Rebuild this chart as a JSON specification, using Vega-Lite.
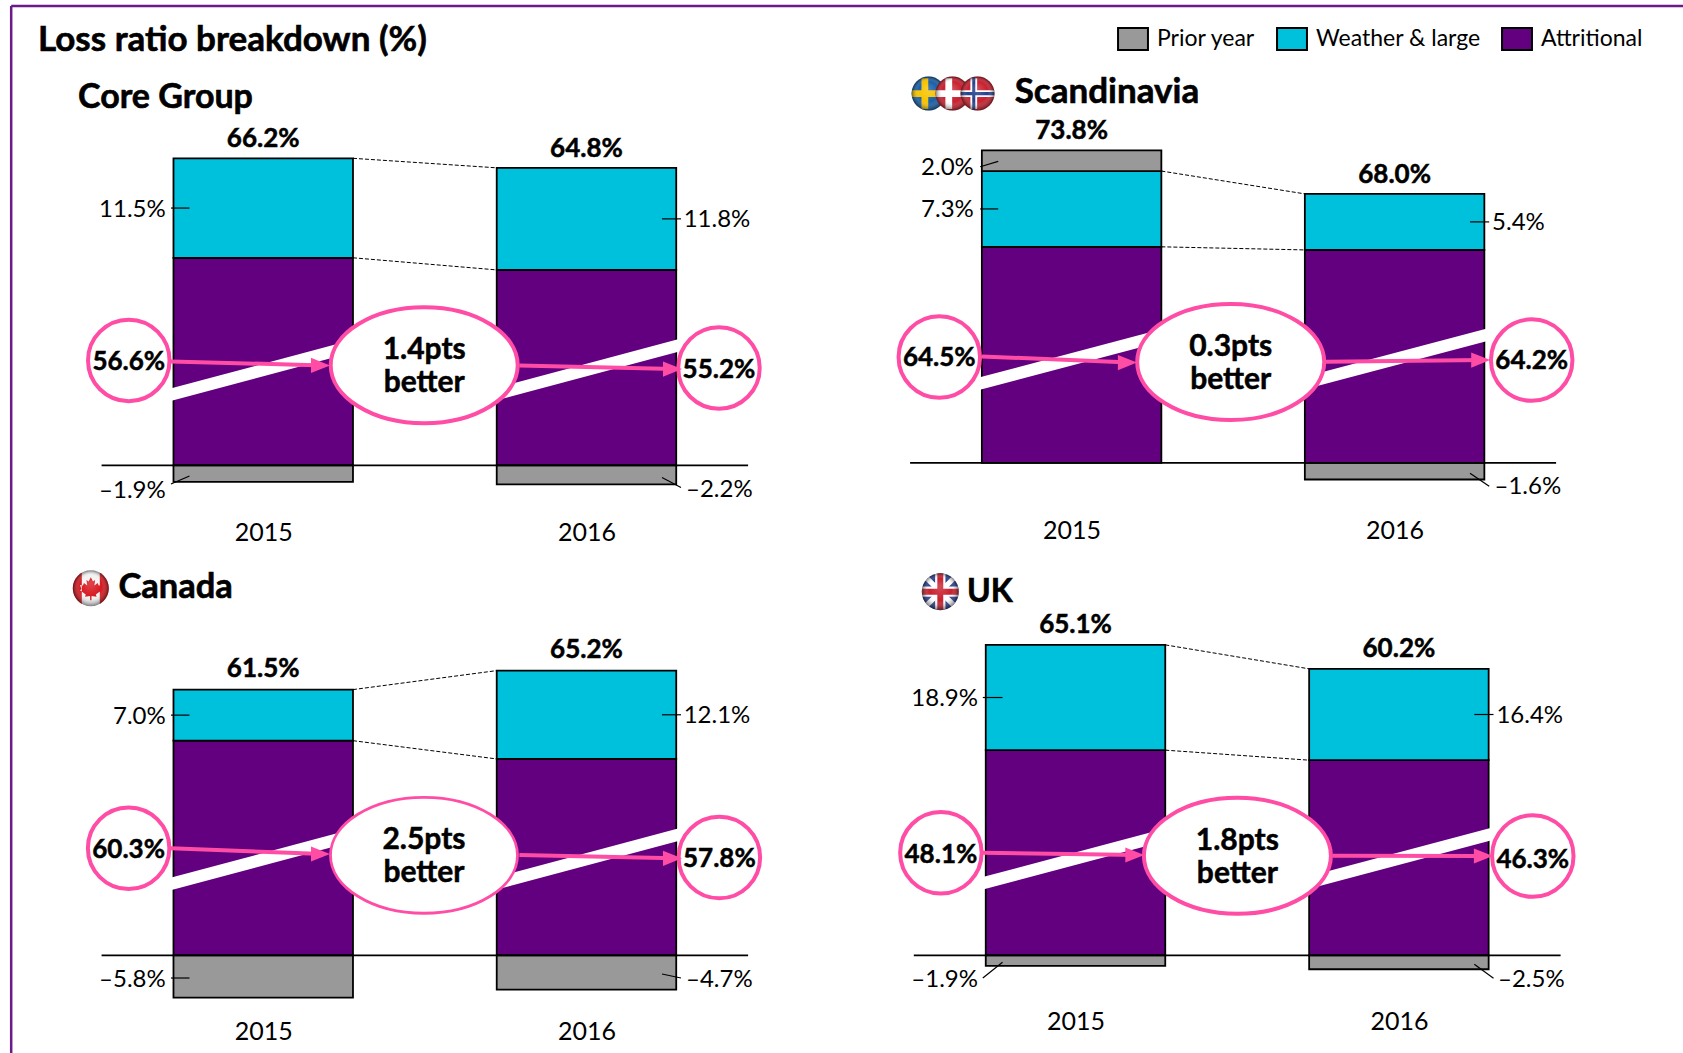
{
"$schema":"https://vega.github.io/schema/vega-lite/v6.json",
"padding":0,
"background":"white",
"columns":2,
"spacing":0,
"bounds":"flush",
"resolve":{"scale":{"color":"independent"},"legend":{"color":"independent"}},
"config":{"font":"Lato","view":{"stroke":null},"axis":{"disable":true},"text":{"color":"#000"}},
"concat":[
{"width":850,"height":565,
"data":{"values":[
{"year":2015,"series":"Attritional","value":56.6},{"year":2015,"series":"Weather & large","value":11.5},{"year":2015,"series":"Prior year","value":-1.9},
{"year":2016,"series":"Attritional","value":55.2},{"year":2016,"series":"Weather & large","value":11.8},{"year":2016,"series":"Prior year","value":-2.2}]},
"transform":[{"stack":"value","groupby":["year"],"offset":"zero","as":["y0","y1"]},{"calculate":"(datum.y0+datum.y1)/2","as":"mid"},{"calculate":"(datum.value<0?'–':'')+format(abs(datum.value),'.1f')+'%'","as":"label"}],
"encoding":{"x":{"type":"quantitative","title":null,"scale":{"domain":[2014.5,2016.5],"range":[101.6,748.1],"zero":false,"nice":false,"padding":0},"axis":{"disable":false,"values":[2015,2016],"format":"d","domain":false,"ticks":false,"grid":false,"title":null,"labelFontSize":25,"labelColor":"#000","labelBaseline":"middle","labelPadding":0,"offset":-33}}},
"layer":[
{"mark":{"type":"bar","width":179.5,"orient":"vertical","stroke":"#000","strokeWidth":1.8},"encoding":{"x":{"field":"year"},"y":{"field":"y0","type":"quantitative","title":null,"scale":{"domain":[-11.5,0,20,52.6,86.4],"range":[565,465.4,292.4,292.4,0],"zero":false,"nice":false}},"y2":{"field":"y1"},"color":{"field":"series","type":"nominal","legend":null,"scale":{"domain":["Prior year","Weather & large","Attritional"],"range":["#999999","#00c1dc","#62007f"]}}}},
{"transform":[{"aggregate":[{"op":"sum","field":"value","as":"total"},{"op":"max","field":"y1","as":"top"}],"groupby":["year"]},{"calculate":"format(datum.total,'.1f')+'%'","as":"totalLabel"}],"mark":{"type":"text","dy":-19,"fontSize":26,"fontWeight":"bold","stroke":"#000","strokeWidth":0.5},"encoding":{"x":{"field":"year"},"y":{"field":"top","type":"quantitative"},"text":{"field":"totalLabel"}}},
{"data":{"values":[{"from":68.1,"to":67.0},{"from":56.6,"to":55.2}]},"mark":{"type":"rule","xOffset":89.75,"x2Offset":-89.75,"strokeDash":[4,2],"strokeWidth":1,"stroke":"#000"},"encoding":{"x":{"datum":2015},"x2":{"datum":2016},"y":{"field":"from","type":"quantitative"},"y2":{"field":"to"}}},
{"transform":[{"filter":"datum.series=='Weather & large'&&datum.year==2015"}],"encoding":{"x":{"field":"year"},"y":{"field":"mid","type":"quantitative"}},"layer":[{"mark":{"type":"rule","xOffset":-92.25,"x2Offset":-73.75,"stroke":"#000","strokeWidth":1.2},"encoding":{"x2":{"field":"year"}}},{"mark":{"type":"text","align":"right","xOffset":-97.5,"dy":1.5,"fontSize":24},"encoding":{"text":{"field":"label"}}}]},
{"transform":[{"filter":"datum.series=='Weather & large'&&datum.year==2016"}],"encoding":{"x":{"field":"year"},"y":{"field":"mid","type":"quantitative"}},"layer":[{"mark":{"type":"rule","xOffset":75.5,"x2Offset":94.5,"stroke":"#000","strokeWidth":1.2},"encoding":{"x2":{"field":"year"}}},{"mark":{"type":"text","align":"left","xOffset":97.2,"dy":1.5,"fontSize":24},"encoding":{"text":{"field":"label"}}}]},
{"transform":[{"filter":"datum.series=='Prior year'&&datum.year==2015"}],"encoding":{"x":{"field":"year"}},"layer":[{"mark":{"type":"rule","xOffset":-73.75,"x2Offset":-92.25,"stroke":"#000","strokeWidth":1.2},"encoding":{"x2":{"field":"year"},"y":{"datum":-1.23},"y2":{"datum":-2.15}}},{"mark":{"type":"text","align":"right","xOffset":-97.5,"dy":1.5,"fontSize":24},"encoding":{"y":{"datum":-2.75},"text":{"field":"label"}}}]},
{"transform":[{"filter":"datum.series=='Prior year'&&datum.year==2016"}],"encoding":{"x":{"field":"year"}},"layer":[{"mark":{"type":"rule","xOffset":75.5,"x2Offset":94.5,"stroke":"#000","strokeWidth":1.2},"encoding":{"x2":{"field":"year"},"y":{"datum":-1.4},"y2":{"datum":-2.55}}},{"mark":{"type":"text","align":"left","xOffset":99.5,"dy":1.5,"fontSize":24},"encoding":{"y":{"datum":-2.68},"text":{"field":"label"}}}]},
{"data":{"values":[{"year":2015},{"year":2016}]},"mark":{"type":"rule","xOffset":-95,"x2Offset":95,"stroke":"#fff","strokeWidth":12.1},"encoding":{"x":{"field":"year"},"x2":{"field":"year"},"y":{"datum":8.09},"y2":{"datum":13.97}}},
{"data":{"values":[{}]},"layer":[
{"mark":{"type":"rule","stroke":"#000","strokeWidth":1.8},"encoding":{"x":{"datum":2014.5},"x2":{"datum":2016.5},"y":{"datum":0}}},
{"mark":{"type":"point","filled":true,"fill":"#fff","opacity":1,"stroke":"#ff4da6","strokeWidth":4,"size":34969,"shape":"M-1,0A1,.62 0 1,1 1,0A1,.62 0 1,1 -1,0Z"},"encoding":{"x":{"datum":2015.498},"y":{"datum":11.58}}},
{"mark":{"type":"text","fontSize":30,"fontWeight":"bold","lineHeight":33,"dy":-15,"stroke":"#000","strokeWidth":0.5},"encoding":{"x":{"datum":2015.498},"y":{"datum":11.58},"text":{"value":["1.4pts","better"]}}},
{"mark":{"type":"rule","stroke":"#6a1b8a","strokeWidth":2.5},"encoding":{"x":{"datum":2014.2203},"x2":{"datum":2016.8153},"y":{"datum":85.71}}},
{"mark":{"type":"rule","stroke":"#6a1b8a","strokeWidth":2.5},"encoding":{"x":{"datum":2014.2203},"y":{"datum":85.71},"y2":{"datum":-11.5}}},
{"mark":{"type":"text","align":"left","fontSize":35,"fontWeight":"bold","stroke":"#000","strokeWidth":0.6},"encoding":{"x":{"datum":2014.3032},"y":{"datum":81.81},"text":{"value":"Loss ratio breakdown (%)"}}},
{"mark":{"type":"text","align":"left","fontSize":34,"fontWeight":"bold","stroke":"#000","strokeWidth":0.6},"encoding":{"x":{"datum":2014.427},"y":{"datum":75.07},"text":{"value":"Core Group"}}}
]},
{"transform":[{"filter":"datum.series=='Attritional'&&datum.year==2015"}],"encoding":{"x":{"field":"year"},"y":{"datum":12.14}},"layer":[{"mark":{"type":"point","shape":"circle","filled":true,"fill":"#fff","opacity":1,"stroke":"#ff4da6","strokeWidth":4,"size":6642,"xOffset":-134.45}},{"mark":{"type":"text","xOffset":-134.45,"dy":2,"fontSize":26,"fontWeight":"bold","stroke":"#000","strokeWidth":0.5},"encoding":{"text":{"field":"label"}}}]},
{"transform":[{"filter":"datum.series=='Attritional'&&datum.year==2016"}],"encoding":{"x":{"field":"year"},"y":{"datum":11.27}},"layer":[{"mark":{"type":"point","shape":"circle","filled":true,"fill":"#fff","opacity":1,"stroke":"#ff4da6","strokeWidth":4,"size":6642,"xOffset":132.5}},{"mark":{"type":"text","xOffset":132.5,"dy":2,"fontSize":26,"fontWeight":"bold","stroke":"#000","strokeWidth":0.5},"encoding":{"text":{"field":"label"}}}]},
{"data":{"values":[{}]},"layer":[
{"mark":{"type":"rule","xOffset":-92.25,"x2Offset":60,"stroke":"#ff4da6","strokeWidth":4},"encoding":{"x":{"datum":2015},"x2":{"datum":2015},"y":{"datum":12.02},"y2":{"datum":11.56}}},
{"mark":{"type":"point","filled":true,"fill":"#ff4da6","opacity":1,"size":361,"xOffset":57.25,"shape":"M-1,-.8L1,0L-1,.8Z"},"encoding":{"x":{"datum":2015},"y":{"datum":11.56}}},
{"mark":{"type":"rule","xOffset":-67.1,"x2Offset":88.5,"stroke":"#ff4da6","strokeWidth":4},"encoding":{"x":{"datum":2016},"x2":{"datum":2016},"y":{"datum":11.56},"y2":{"datum":11.14}}},
{"mark":{"type":"point","filled":true,"fill":"#ff4da6","opacity":1,"size":361,"xOffset":86,"shape":"M-1,-.8L1,0L-1,.8Z"},"encoding":{"x":{"datum":2016},"y":{"datum":11.14}}}
]}
]},
{"width":833,"height":565,
"data":{"values":[
{"year":2015,"series":"Attritional","value":64.5},{"year":2015,"series":"Weather & large","value":7.3},{"year":2015,"series":"Prior year","value":2.0},
{"year":2016,"series":"Attritional","value":64.2},{"year":2016,"series":"Weather & large","value":5.4},{"year":2016,"series":"Prior year","value":-1.6}]},
"transform":[{"stack":"value","groupby":["year"],"offset":"zero","as":["y0","y1"]},{"calculate":"(datum.y0+datum.y1)/2","as":"mid"},{"calculate":"(datum.value<0?'–':'')+format(abs(datum.value),'.1f')+'%'","as":"label"}],
"encoding":{"x":{"type":"quantitative","title":null,"scale":{"domain":[2014.5,2016.5],"range":[60.1,706.1],"zero":false,"nice":false,"padding":0},"axis":{"disable":false,"values":[2015,2016],"format":"d","domain":false,"ticks":false,"grid":false,"title":null,"labelFontSize":25,"labelColor":"#000","labelBaseline":"middle","labelPadding":0,"offset":-35}}},
"layer":[
{"mark":{"type":"bar","width":179.5,"orient":"vertical","stroke":"#000","strokeWidth":1.8},"encoding":{"x":{"field":"year"},"y":{"field":"y0","type":"quantitative","title":null,"scale":{"domain":[-9.84,0,14,57.68,88.28],"range":[565,462.9,317.6,317.6,0],"zero":false,"nice":false}},"y2":{"field":"y1"},"color":{"field":"series","type":"nominal","scale":{"domain":["Prior year","Weather & large","Attritional"],"range":["#999999","#00c1dc","#62007f"]},"legend":{"title":null,"orient":"none","legendX":271,"legendY":27,"direction":"horizontal","columns":3,"padding":0,"columnPadding":17,"symbolType":"M-1.36,-1H1.36V1H-1.36Z","symbolSize":484,"symbolStrokeColor":"#000","symbolStrokeWidth":2,"symbolOpacity":1,"labelFontSize":23,"labelColor":"#000","labelOffset":12,"labelLimit":300}}}},
{"transform":[{"aggregate":[{"op":"sum","field":"value","as":"total"},{"op":"max","field":"y1","as":"top"}],"groupby":["year"]},{"calculate":"format(datum.total,'.1f')+'%'","as":"totalLabel"}],"mark":{"type":"text","dy":-19,"fontSize":26,"fontWeight":"bold","stroke":"#000","strokeWidth":0.5},"encoding":{"x":{"field":"year"},"y":{"field":"top","type":"quantitative"},"text":{"field":"totalLabel"}}},
{"data":{"values":[{"from":71.8,"to":69.6},{"from":64.5,"to":64.2}]},"mark":{"type":"rule","xOffset":89.75,"x2Offset":-89.75,"strokeDash":[4,2],"strokeWidth":1,"stroke":"#000"},"encoding":{"x":{"datum":2015},"x2":{"datum":2016},"y":{"field":"from","type":"quantitative"},"y2":{"field":"to"}}},
{"transform":[{"filter":"datum.series=='Weather & large'&&datum.year==2015"}],"encoding":{"x":{"field":"year"},"y":{"field":"mid","type":"quantitative"}},"layer":[{"mark":{"type":"rule","xOffset":-91.4,"x2Offset":-73.4,"stroke":"#000","strokeWidth":1.2},"encoding":{"x2":{"field":"year"}}},{"mark":{"type":"text","align":"right","xOffset":-97.8,"dy":1.5,"fontSize":24},"encoding":{"text":{"field":"label"}}}]},
{"transform":[{"filter":"datum.series=='Weather & large'&&datum.year==2016"}],"encoding":{"x":{"field":"year"},"y":{"field":"mid","type":"quantitative"}},"layer":[{"mark":{"type":"rule","xOffset":75.4,"x2Offset":94.6,"stroke":"#000","strokeWidth":1.2},"encoding":{"x2":{"field":"year"}}},{"mark":{"type":"text","align":"left","xOffset":97.5,"dy":1.5,"fontSize":24},"encoding":{"text":{"field":"label"}}}]},
{"transform":[{"filter":"datum.series=='Prior year'&&datum.year==2015"}],"encoding":{"x":{"field":"year"}},"layer":[{"mark":{"type":"rule","xOffset":-73.4,"x2Offset":-91.4,"stroke":"#000","strokeWidth":1.2},"encoding":{"x2":{"field":"year"},"y":{"datum":72.73},"y2":{"datum":72.21}}},{"mark":{"type":"text","align":"right","xOffset":-97.8,"dy":1.5,"fontSize":24},"encoding":{"y":{"datum":72.21},"text":{"field":"label"}}}]},
{"transform":[{"filter":"datum.series=='Prior year'&&datum.year==2016"}],"encoding":{"x":{"field":"year"}},"layer":[{"mark":{"type":"rule","xOffset":75.4,"x2Offset":94.6,"stroke":"#000","strokeWidth":1.2},"encoding":{"x2":{"field":"year"},"y":{"datum":-0.99},"y2":{"datum":-2.26}}},{"mark":{"type":"text","align":"left","xOffset":99.9,"dy":1.5,"fontSize":24},"encoding":{"y":{"datum":-2.2},"text":{"field":"label"}}}]},
{"data":{"values":[{"year":2015},{"year":2016}]},"mark":{"type":"rule","xOffset":-95,"x2Offset":95,"stroke":"#fff","strokeWidth":12.1},"encoding":{"x":{"field":"year"},"x2":{"field":"year"},"y":{"datum":7.57},"y2":{"datum":12.41}}},
{"data":{"values":[{}]},"layer":[
{"mark":{"type":"rule","stroke":"#000","strokeWidth":1.8},"encoding":{"x":{"datum":2014.5},"x2":{"datum":2016.5},"y":{"datum":0}}},
{"mark":{"type":"point","filled":true,"fill":"#fff","opacity":1,"stroke":"#ff4da6","strokeWidth":4,"size":34969,"shape":"M-1,0A1,.62 0 1,1 1,0A1,.62 0 1,1 -1,0Z"},"encoding":{"x":{"datum":2015.4926},"y":{"datum":9.72}}},
{"mark":{"type":"text","fontSize":30,"fontWeight":"bold","lineHeight":33,"dy":-15,"stroke":"#000","strokeWidth":0.5},"encoding":{"x":{"datum":2015.4926},"y":{"datum":9.72},"text":{"value":["0.3pts","better"]}}},
{"mark":{"type":"rule","stroke":"#6a1b8a","strokeWidth":2.5},"encoding":{"x":{"datum":2014.3139},"x2":{"datum":2016.8929},"y":{"datum":87.7}}},
{"mark":{"type":"point","filled":true,"fill":"#1a5fa8","opacity":1,"size":1156,"shape":"M-1,0A1,1 0 1,1 1,0A1,1 0 1,1 -1,0Z"},"encoding":{"x":{"datum":2014.5573},"y":{"datum":79.26}}},
{"mark":{"type":"point","filled":true,"fill":"#f6c400","opacity":1,"size":1156,"shape":"M-.98,-.2H-.42V-.9H-.02V-.2H.98V.2H-.02V.9H-.42V.2H-.98Z"},"encoding":{"x":{"datum":2014.5573},"y":{"datum":79.26}}},
{"mark":{"type":"point","filled":true,"opacity":1,"size":1156,"shape":"M-1,0A1,1 0 1,1 1,0A1,1 0 1,1 -1,0Z","fill":{"gradient":"radial","x1":0.5,"y1":0.35,"r1":0,"x2":0.5,"y2":0.5,"r2":0.5,"stops":[{"offset":0,"color":"rgba(255,255,255,0.2)"},{"offset":0.6,"color":"rgba(255,255,255,0)"},{"offset":1,"color":"rgba(0,0,0,0.5)"}]}},"encoding":{"x":{"datum":2014.5573},"y":{"datum":79.26}}},
{"mark":{"type":"point","filled":true,"fill":"#c8202f","opacity":1,"size":1156,"shape":"M-1,0A1,1 0 1,1 1,0A1,1 0 1,1 -1,0Z"},"encoding":{"x":{"datum":2014.6313},"y":{"datum":79.26}}},
{"mark":{"type":"point","filled":true,"fill":"#fff","opacity":1,"size":1156,"shape":"M-.98,-.2H-.42V-.9H-.02V-.2H.98V.2H-.02V.9H-.42V.2H-.98Z"},"encoding":{"x":{"datum":2014.6313},"y":{"datum":79.26}}},
{"mark":{"type":"point","filled":true,"opacity":1,"size":1156,"shape":"M-1,0A1,1 0 1,1 1,0A1,1 0 1,1 -1,0Z","fill":{"gradient":"radial","x1":0.5,"y1":0.35,"r1":0,"x2":0.5,"y2":0.5,"r2":0.5,"stops":[{"offset":0,"color":"rgba(255,255,255,0.2)"},{"offset":0.6,"color":"rgba(255,255,255,0)"},{"offset":1,"color":"rgba(0,0,0,0.5)"}]}},"encoding":{"x":{"datum":2014.6313},"y":{"datum":79.26}}},
{"mark":{"type":"point","filled":true,"fill":"#c8202f","opacity":1,"size":1156,"shape":"M-1,0A1,1 0 1,1 1,0A1,1 0 1,1 -1,0Z"},"encoding":{"x":{"datum":2014.7087},"y":{"datum":79.26}}},
{"mark":{"type":"point","filled":true,"fill":"#fff","opacity":1,"size":1156,"shape":"M-.98,-.2H-.42V-.9H-.02V-.2H.98V.2H-.02V.9H-.42V.2H-.98Z"},"encoding":{"x":{"datum":2014.7087},"y":{"datum":79.26}}},
{"mark":{"type":"point","filled":true,"fill":"#23408e","opacity":1,"size":1156,"shape":"M-.98,-.09H-.31V-.95H-.13V-.09H.98V.09H-.13V.95H-.31V.09H-.98Z"},"encoding":{"x":{"datum":2014.7087},"y":{"datum":79.26}}},
{"mark":{"type":"point","filled":true,"opacity":1,"size":1156,"shape":"M-1,0A1,1 0 1,1 1,0A1,1 0 1,1 -1,0Z","fill":{"gradient":"radial","x1":0.5,"y1":0.35,"r1":0,"x2":0.5,"y2":0.5,"r2":0.5,"stops":[{"offset":0,"color":"rgba(255,255,255,0.2)"},{"offset":0.6,"color":"rgba(255,255,255,0)"},{"offset":1,"color":"rgba(0,0,0,0.5)"}]}},"encoding":{"x":{"datum":2014.7087},"y":{"datum":79.26}}},
{"mark":{"type":"text","align":"left","fontSize":35,"fontWeight":"bold","stroke":"#000","strokeWidth":0.6},"encoding":{"x":{"datum":2014.8238},"y":{"datum":79.37},"text":{"value":"Scandinavia"}}}
]},
{"transform":[{"filter":"datum.series=='Attritional'&&datum.year==2015"}],"encoding":{"x":{"field":"year"},"y":{"datum":10.2}},"layer":[{"mark":{"type":"point","shape":"circle","filled":true,"fill":"#fff","opacity":1,"stroke":"#ff4da6","strokeWidth":4,"size":6642,"xOffset":-132.3}},{"mark":{"type":"text","xOffset":-132.3,"dy":1,"fontSize":26,"fontWeight":"bold","stroke":"#000","strokeWidth":0.5},"encoding":{"text":{"field":"label"}}}]},
{"transform":[{"filter":"datum.series=='Attritional'&&datum.year==2016"}],"encoding":{"x":{"field":"year"},"y":{"datum":9.91}},"layer":[{"mark":{"type":"point","shape":"circle","filled":true,"fill":"#fff","opacity":1,"stroke":"#ff4da6","strokeWidth":4,"size":6642,"xOffset":137.1}},{"mark":{"type":"text","xOffset":137.1,"dy":1,"fontSize":26,"fontWeight":"bold","stroke":"#000","strokeWidth":0.5},"encoding":{"text":{"field":"label"}}}]},
{"data":{"values":[{}]},"layer":[
{"mark":{"type":"rule","xOffset":-89.8,"x2Offset":58.3,"stroke":"#ff4da6","strokeWidth":4},"encoding":{"x":{"datum":2015},"x2":{"datum":2015},"y":{"datum":10.26},"y2":{"datum":9.67}}},
{"mark":{"type":"point","filled":true,"fill":"#ff4da6","opacity":1,"size":361,"xOffset":55.8,"shape":"M-1,-.8L1,0L-1,.8Z"},"encoding":{"x":{"datum":2015},"y":{"datum":9.67}}},
{"mark":{"type":"rule","xOffset":-69,"x2Offset":88.6,"stroke":"#ff4da6","strokeWidth":4},"encoding":{"x":{"datum":2016},"x2":{"datum":2016},"y":{"datum":9.74},"y2":{"datum":9.91}}},
{"mark":{"type":"point","filled":true,"fill":"#ff4da6","opacity":1,"size":361,"xOffset":86.1,"shape":"M-1,-.8L1,0L-1,.8Z"},"encoding":{"x":{"datum":2016},"y":{"datum":9.91}}}
]}
]},
{"width":850,"height":488,
"data":{"values":[
{"year":2015,"series":"Attritional","value":60.3},{"year":2015,"series":"Weather & large","value":7.0},{"year":2015,"series":"Prior year","value":-5.8},
{"year":2016,"series":"Attritional","value":57.8},{"year":2016,"series":"Weather & large","value":12.1},{"year":2016,"series":"Prior year","value":-4.7}]},
"transform":[{"stack":"value","groupby":["year"],"offset":"zero","as":["y0","y1"]},{"calculate":"(datum.y0+datum.y1)/2","as":"mid"},{"calculate":"(datum.value<0?'–':'')+format(abs(datum.value),'.1f')+'%'","as":"label"}],
"encoding":{"x":{"type":"quantitative","title":null,"scale":{"domain":[2014.5,2016.5],"range":[101.6,748.1],"zero":false,"nice":false,"padding":0},"axis":{"disable":false,"values":[2015,2016],"format":"d","domain":false,"ticks":false,"grid":false,"title":null,"labelFontSize":25,"labelColor":"#000","labelBaseline":"middle","labelPadding":0,"offset":-22}}},
"layer":[
{"mark":{"type":"bar","width":179.5,"orient":"vertical","stroke":"#000","strokeWidth":1.8},"encoding":{"x":{"field":"year"},"y":{"field":"y0","type":"quantitative","title":null,"scale":{"domain":[-13.38,0,22,52.9,84.37],"range":[488,390.3,229.7,229.7,0],"zero":false,"nice":false}},"y2":{"field":"y1"},"color":{"field":"series","type":"nominal","legend":null,"scale":{"domain":["Prior year","Weather & large","Attritional"],"range":["#999999","#00c1dc","#62007f"]}}}},
{"transform":[{"aggregate":[{"op":"sum","field":"value","as":"total"},{"op":"max","field":"y1","as":"top"}],"groupby":["year"]},{"calculate":"format(datum.total,'.1f')+'%'","as":"totalLabel"}],"mark":{"type":"text","dy":-21,"fontSize":26,"fontWeight":"bold","stroke":"#000","strokeWidth":0.5},"encoding":{"x":{"field":"year"},"y":{"field":"top","type":"quantitative"},"text":{"field":"totalLabel"}}},
{"data":{"values":[{"from":67.3,"to":69.9},{"from":60.3,"to":57.8}]},"mark":{"type":"rule","xOffset":89.75,"x2Offset":-89.75,"strokeDash":[4,2],"strokeWidth":1,"stroke":"#000"},"encoding":{"x":{"datum":2015},"x2":{"datum":2016},"y":{"field":"from","type":"quantitative"},"y2":{"field":"to"}}},
{"transform":[{"filter":"datum.series=='Weather & large'&&datum.year==2015"}],"encoding":{"x":{"field":"year"},"y":{"field":"mid","type":"quantitative"}},"layer":[{"mark":{"type":"rule","xOffset":-92.25,"x2Offset":-73.75,"stroke":"#000","strokeWidth":1.2},"encoding":{"x2":{"field":"year"}}},{"mark":{"type":"text","align":"right","xOffset":-97.5,"dy":1.5,"fontSize":24},"encoding":{"text":{"field":"label"}}}]},
{"transform":[{"filter":"datum.series=='Weather & large'&&datum.year==2016"}],"encoding":{"x":{"field":"year"},"y":{"field":"mid","type":"quantitative"}},"layer":[{"mark":{"type":"rule","xOffset":75.5,"x2Offset":94.5,"stroke":"#000","strokeWidth":1.2},"encoding":{"x2":{"field":"year"}}},{"mark":{"type":"text","align":"left","xOffset":97.2,"dy":1.5,"fontSize":24},"encoding":{"text":{"field":"label"}}}]},
{"transform":[{"filter":"datum.series=='Prior year'&&datum.year==2015"}],"encoding":{"x":{"field":"year"}},"layer":[{"mark":{"type":"rule","xOffset":-92.25,"x2Offset":-73.75,"stroke":"#000","strokeWidth":1.2},"encoding":{"x2":{"field":"year"},"y":{"datum":-3.11}}},{"mark":{"type":"text","align":"right","xOffset":-97.5,"dy":1.5,"fontSize":24},"encoding":{"y":{"datum":-3.11},"text":{"field":"label"}}}]},
{"transform":[{"filter":"datum.series=='Prior year'&&datum.year==2016"}],"encoding":{"x":{"field":"year"}},"layer":[{"mark":{"type":"rule","xOffset":75.5,"x2Offset":94.5,"stroke":"#000","strokeWidth":1.2},"encoding":{"x2":{"field":"year"},"y":{"datum":-2.56},"y2":{"datum":-3.11}}},{"mark":{"type":"text","align":"left","xOffset":99.5,"dy":1.5,"fontSize":24},"encoding":{"y":{"datum":-3.11},"text":{"field":"label"}}}]},
{"data":{"values":[{"year":2015},{"year":2016}]},"mark":{"type":"rule","xOffset":-95,"x2Offset":95,"stroke":"#fff","strokeWidth":12.1},"encoding":{"x":{"field":"year"},"x2":{"field":"year"},"y":{"datum":9.67},"y2":{"datum":16.63}}},
{"data":{"values":[{}]},"layer":[
{"mark":{"type":"rule","stroke":"#000","strokeWidth":1.8},"encoding":{"x":{"datum":2014.5},"x2":{"datum":2016.5},"y":{"datum":0}}},
{"mark":{"type":"point","filled":true,"fill":"#fff","opacity":1,"stroke":"#ff4da6","strokeWidth":2.8,"size":34969,"shape":"M-1,0A1,.62 0 1,1 1,0A1,.62 0 1,1 -1,0Z"},"encoding":{"x":{"datum":2015.4973},"y":{"datum":13.7}}},
{"mark":{"type":"text","fontSize":30,"fontWeight":"bold","lineHeight":33,"dy":-15,"stroke":"#000","strokeWidth":0.5},"encoding":{"x":{"datum":2015.4973},"y":{"datum":13.7},"text":{"value":["2.5pts","better"]}}},
{"mark":{"type":"rule","stroke":"#6a1b8a","strokeWidth":2.5},"encoding":{"x":{"datum":2014.2203},"y":{"datum":84.37},"y2":{"datum":-13.38}}},
{"mark":{"type":"point","filled":true,"fill":"#f3f3f3","opacity":1,"size":1296,"shape":"M-1,0A1,1 0 1,1 1,0A1,1 0 1,1 -1,0Z"},"encoding":{"x":{"datum":2014.4666},"y":{"datum":81.17}}},
{"mark":{"type":"point","filled":true,"fill":"#d71920","opacity":1,"size":1296,"shape":"M-.5,-.866A1,1 0 0,0 -.5,.866ZM.5,-.866A1,1 0 0,1 .5,.866ZM0,-.62L.12,-.38L.24,-.46L.2,-.16L.38,-.3L.44,-.16L.6,-.18L.52,.04L.6,.1L.28,.34L.32,.46L.04,.42L.04,.66L-.04,.66L-.04,.42L-.32,.46L-.28,.34L-.6,.1L-.52,.04L-.6,-.18L-.44,-.16L-.38,-.3L-.2,-.16L-.24,-.46L-.12,-.38Z"},"encoding":{"x":{"datum":2014.4666},"y":{"datum":81.17}}},
{"mark":{"type":"point","filled":true,"opacity":1,"size":1296,"shape":"M-1,0A1,1 0 1,1 1,0A1,1 0 1,1 -1,0Z","fill":{"gradient":"radial","x1":0.5,"y1":0.35,"r1":0,"x2":0.5,"y2":0.5,"r2":0.5,"stops":[{"offset":0,"color":"rgba(255,255,255,0.2)"},{"offset":0.6,"color":"rgba(255,255,255,0)"},{"offset":1,"color":"rgba(0,0,0,0.5)"}]}},"encoding":{"x":{"datum":2014.4666},"y":{"datum":81.17}}},
{"mark":{"type":"text","align":"left","fontSize":34.5,"fontWeight":"bold","stroke":"#000","strokeWidth":0.6},"encoding":{"x":{"datum":2014.552},"y":{"datum":81.16},"text":{"value":"Canada"}}}
]},
{"transform":[{"filter":"datum.series=='Attritional'&&datum.year==2015"}],"encoding":{"x":{"field":"year"},"y":{"datum":14.66}},"layer":[{"mark":{"type":"point","shape":"circle","filled":true,"fill":"#fff","opacity":1,"stroke":"#ff4da6","strokeWidth":4,"size":6642,"xOffset":-134.6}},{"mark":{"type":"text","xOffset":-134.6,"dy":2,"fontSize":26,"fontWeight":"bold","stroke":"#000","strokeWidth":0.5},"encoding":{"text":{"field":"label"}}}]},
{"transform":[{"filter":"datum.series=='Attritional'&&datum.year==2016"}],"encoding":{"x":{"field":"year"},"y":{"datum":13.4}},"layer":[{"mark":{"type":"point","shape":"circle","filled":true,"fill":"#fff","opacity":1,"stroke":"#ff4da6","strokeWidth":4,"size":6642,"xOffset":132.9}},{"mark":{"type":"text","xOffset":132.9,"dy":2,"fontSize":26,"fontWeight":"bold","stroke":"#000","strokeWidth":0.5},"encoding":{"text":{"field":"label"}}}]},
{"data":{"values":[{}]},"layer":[
{"mark":{"type":"rule","xOffset":-92.25,"x2Offset":60,"stroke":"#ff4da6","strokeWidth":4},"encoding":{"x":{"datum":2015},"x2":{"datum":2015},"y":{"datum":14.66},"y2":{"datum":13.88}}},
{"mark":{"type":"point","filled":true,"fill":"#ff4da6","opacity":1,"size":361,"xOffset":57.25,"shape":"M-1,-.8L1,0L-1,.8Z"},"encoding":{"x":{"datum":2015},"y":{"datum":13.88}}},
{"mark":{"type":"rule","xOffset":-67.1,"x2Offset":88.5,"stroke":"#ff4da6","strokeWidth":4},"encoding":{"x":{"datum":2016},"x2":{"datum":2016},"y":{"datum":13.74},"y2":{"datum":13.29}}},
{"mark":{"type":"point","filled":true,"fill":"#ff4da6","opacity":1,"size":361,"xOffset":86,"shape":"M-1,-.8L1,0L-1,.8Z"},"encoding":{"x":{"datum":2016},"y":{"datum":13.29}}}
]}
]},
{"width":833,"height":488,
"data":{"values":[
{"year":2015,"series":"Attritional","value":48.1},{"year":2015,"series":"Weather & large","value":18.9},{"year":2015,"series":"Prior year","value":-1.9},
{"year":2016,"series":"Attritional","value":46.3},{"year":2016,"series":"Weather & large","value":16.4},{"year":2016,"series":"Prior year","value":-2.5}]},
"transform":[{"stack":"value","groupby":["year"],"offset":"zero","as":["y0","y1"]},{"calculate":"(datum.y0+datum.y1)/2","as":"mid"},{"calculate":"(datum.value<0?'–':'')+format(abs(datum.value),'.1f')+'%'","as":"label"}],
"encoding":{"x":{"type":"quantitative","title":null,"scale":{"domain":[2014.5,2016.5],"range":[63.8,710.6],"zero":false,"nice":false,"padding":0},"axis":{"disable":false,"values":[2015,2016],"format":"d","domain":false,"ticks":false,"grid":false,"title":null,"labelFontSize":25,"labelColor":"#000","labelBaseline":"middle","labelPadding":0,"offset":-31.3}}},
"layer":[
{"mark":{"type":"bar","width":179.5,"orient":"vertical","stroke":"#000","strokeWidth":1.8},"encoding":{"x":{"field":"year"},"y":{"field":"y0","type":"quantitative","title":null,"scale":{"domain":[-17.54,0,30,41.27,81.34],"range":[488,390.3,223.2,223.2,0],"zero":false,"nice":false}},"y2":{"field":"y1"},"color":{"field":"series","type":"nominal","legend":null,"scale":{"domain":["Prior year","Weather & large","Attritional"],"range":["#999999","#00c1dc","#62007f"]}}}},
{"transform":[{"aggregate":[{"op":"sum","field":"value","as":"total"},{"op":"max","field":"y1","as":"top"}],"groupby":["year"]},{"calculate":"format(datum.total,'.1f')+'%'","as":"totalLabel"}],"mark":{"type":"text","dy":-20,"fontSize":26,"fontWeight":"bold","stroke":"#000","strokeWidth":0.5},"encoding":{"x":{"field":"year"},"y":{"field":"top","type":"quantitative"},"text":{"field":"totalLabel"}}},
{"data":{"values":[{"from":67.0,"to":62.7},{"from":48.1,"to":46.3}]},"mark":{"type":"rule","xOffset":89.75,"x2Offset":-89.75,"strokeDash":[4,2],"strokeWidth":1,"stroke":"#000"},"encoding":{"x":{"datum":2015},"x2":{"datum":2016},"y":{"field":"from","type":"quantitative"},"y2":{"field":"to"}}},
{"transform":[{"filter":"datum.series=='Weather & large'&&datum.year==2015"}],"encoding":{"x":{"field":"year"},"y":{"field":"mid","type":"quantitative"}},"layer":[{"mark":{"type":"rule","xOffset":-92.7,"x2Offset":-73,"stroke":"#000","strokeWidth":1.2},"encoding":{"x2":{"field":"year"}}},{"mark":{"type":"text","align":"right","xOffset":-97.5,"dy":1.5,"fontSize":24},"encoding":{"text":{"field":"label"}}}]},
{"transform":[{"filter":"datum.series=='Weather & large'&&datum.year==2016"}],"encoding":{"x":{"field":"year"},"y":{"field":"mid","type":"quantitative"}},"layer":[{"mark":{"type":"rule","xOffset":75.4,"x2Offset":94.6,"stroke":"#000","strokeWidth":1.2},"encoding":{"x2":{"field":"year"}}},{"mark":{"type":"text","align":"left","xOffset":97.5,"dy":1.5,"fontSize":24},"encoding":{"text":{"field":"label"}}}]},
{"transform":[{"filter":"datum.series=='Prior year'&&datum.year==2015"}],"encoding":{"x":{"field":"year"}},"layer":[{"mark":{"type":"rule","xOffset":-73,"x2Offset":-92.7,"stroke":"#000","strokeWidth":1.2},"encoding":{"x2":{"field":"year"},"y":{"datum":-1.26},"y2":{"datum":-4.08}}},{"mark":{"type":"text","align":"right","xOffset":-97.5,"dy":1.5,"fontSize":24},"encoding":{"y":{"datum":-4.08},"text":{"field":"label"}}}]},
{"transform":[{"filter":"datum.series=='Prior year'&&datum.year==2016"}],"encoding":{"x":{"field":"year"}},"layer":[{"mark":{"type":"rule","xOffset":75.4,"x2Offset":94.6,"stroke":"#000","strokeWidth":1.2},"encoding":{"x2":{"field":"year"},"y":{"datum":-1.62},"y2":{"datum":-4.13}}},{"mark":{"type":"text","align":"left","xOffset":99.1,"dy":1.5,"fontSize":24},"encoding":{"y":{"datum":-4.08},"text":{"field":"label"}}}]},
{"data":{"values":[{"year":2015},{"year":2016}]},"mark":{"type":"rule","xOffset":-95,"x2Offset":95,"stroke":"#fff","strokeWidth":12.1},"encoding":{"x":{"field":"year"},"x2":{"field":"year"},"y":{"datum":12.82},"y2":{"datum":21.9}}},
{"data":{"values":[{}]},"layer":[
{"mark":{"type":"rule","stroke":"#000","strokeWidth":1.8},"encoding":{"x":{"datum":2014.5},"x2":{"datum":2016.5},"y":{"datum":0}}},
{"mark":{"type":"point","filled":true,"fill":"#fff","opacity":1,"stroke":"#ff4da6","strokeWidth":4,"size":34969,"shape":"M-1,0A1,.62 0 1,1 1,0A1,.62 0 1,1 -1,0Z"},"encoding":{"x":{"datum":2015.5006},"y":{"datum":17.86}}},
{"mark":{"type":"text","fontSize":30,"fontWeight":"bold","lineHeight":33,"dy":-15,"stroke":"#000","strokeWidth":0.5},"encoding":{"x":{"datum":2015.5006},"y":{"datum":17.86},"text":{"value":["1.8pts","better"]}}},
{"mark":{"type":"point","filled":true,"fill":"#2a3f8f","opacity":1,"size":1369,"shape":"M-1,0A1,1 0 1,1 1,0A1,1 0 1,1 -1,0Z"},"encoding":{"x":{"datum":2014.5819},"y":{"datum":76.55}}},
{"mark":{"type":"point","filled":true,"fill":"#fff","opacity":1,"size":1369,"shape":"M-.8,-.6L-.6,-.8L0,-.2L.6,-.8L.8,-.6L.2,0L.8,.6L.6,.8L0,.2L-.6,.8L-.8,.6L-.2,0Z"},"encoding":{"x":{"datum":2014.5819},"y":{"datum":76.55}}},
{"mark":{"type":"point","filled":true,"fill":"#fff","opacity":1,"size":1369,"shape":"M-.98,-.28H-.28V-.96H.28V-.28H.98V.28H.28V.96H-.28V.28H-.98Z"},"encoding":{"x":{"datum":2014.5819},"y":{"datum":76.55}}},
{"mark":{"type":"point","filled":true,"fill":"#c8202f","opacity":1,"size":1369,"shape":"M-.98,-.16H-.16V-.98H.16V-.16H.98V.16H.16V.98H-.16V.16H-.98Z"},"encoding":{"x":{"datum":2014.5819},"y":{"datum":76.55}}},
{"mark":{"type":"point","filled":true,"opacity":1,"size":1369,"shape":"M-1,0A1,1 0 1,1 1,0A1,1 0 1,1 -1,0Z","fill":{"gradient":"radial","x1":0.5,"y1":0.35,"r1":0,"x2":0.5,"y2":0.5,"r2":0.5,"stops":[{"offset":0,"color":"rgba(255,255,255,0.2)"},{"offset":0.6,"color":"rgba(255,255,255,0)"},{"offset":1,"color":"rgba(0,0,0,0.5)"}]}},"encoding":{"x":{"datum":2014.5819},"y":{"datum":76.55}}},
{"mark":{"type":"text","align":"left","fontSize":32,"fontWeight":"bold","stroke":"#000","strokeWidth":0.6},"encoding":{"x":{"datum":2014.6642},"y":{"datum":76.53},"text":{"value":"UK"}}}
]},
{"transform":[{"filter":"datum.series=='Attritional'&&datum.year==2015"}],"encoding":{"x":{"field":"year"},"y":{"datum":18.4}},"layer":[{"mark":{"type":"point","shape":"circle","filled":true,"fill":"#fff","opacity":1,"stroke":"#ff4da6","strokeWidth":4,"size":6642,"xOffset":-134.6}},{"mark":{"type":"text","xOffset":-134.6,"dy":2,"fontSize":26,"fontWeight":"bold","stroke":"#000","strokeWidth":0.5},"encoding":{"text":{"field":"label"}}}]},
{"transform":[{"filter":"datum.series=='Attritional'&&datum.year==2016"}],"encoding":{"x":{"field":"year"},"y":{"datum":17.83}},"layer":[{"mark":{"type":"point","shape":"circle","filled":true,"fill":"#fff","opacity":1,"stroke":"#ff4da6","strokeWidth":4,"size":6642,"xOffset":133.9}},{"mark":{"type":"text","xOffset":133.9,"dy":4,"fontSize":26,"fontWeight":"bold","stroke":"#000","strokeWidth":0.5},"encoding":{"text":{"field":"label"}}}]},
{"data":{"values":[{}]},"layer":[
{"mark":{"type":"rule","xOffset":-92.7,"x2Offset":61.8,"stroke":"#ff4da6","strokeWidth":4},"encoding":{"x":{"datum":2015},"x2":{"datum":2015},"y":{"datum":18.42},"y2":{"datum":18.01}}},
{"mark":{"type":"point","filled":true,"fill":"#ff4da6","opacity":1,"size":361,"xOffset":59.3,"shape":"M-1,-.8L1,0L-1,.8Z"},"encoding":{"x":{"datum":2015},"y":{"datum":18.01}}},
{"mark":{"type":"rule","xOffset":-66.4,"x2Offset":87,"stroke":"#ff4da6","strokeWidth":4},"encoding":{"x":{"datum":2016},"x2":{"datum":2016},"y":{"datum":17.88},"y2":{"datum":17.83}}},
{"mark":{"type":"point","filled":true,"fill":"#ff4da6","opacity":1,"size":361,"xOffset":84.5,"shape":"M-1,-.8L1,0L-1,.8Z"},"encoding":{"x":{"datum":2016},"y":{"datum":17.83}}}
]}
]}
]
}
